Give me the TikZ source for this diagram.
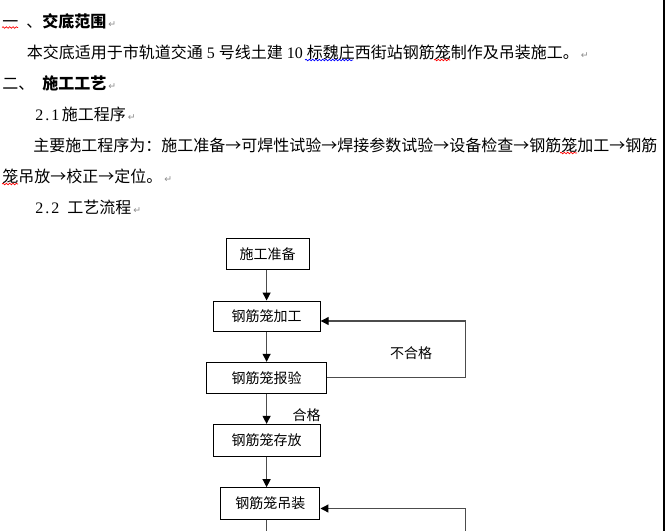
\documentclass[tikz,border=0pt]{standalone}
\usepackage{fontspec}
\setmainfont{Liberation Serif}
\newfontfamily\cjk{Noto Sans CJK SC}
\newfontfamily\dejavu{DejaVu Sans}
\usetikzlibrary{arrows.meta,decorations.pathmorphing}
\newcommand\hw[1]{\makebox[0.5em][c]{#1}}
\newcommand\ret{\hspace{1.5pt}{\dejavu\fontsize{7pt}{7pt}\selectfont\color{black!45}↵}}
\tikzset{
  txt/.style={anchor=west, inner sep=0pt, font=\fontsize{12pt}{12pt}\selectfont\cjk, text height=0.88em, text depth=0.12em},
  box/.style={draw=black, line width=0.75pt, inner sep=0pt, font=\fontsize{10.5pt}{10.5pt}\selectfont\cjk},
  lbl/.style={inner sep=0pt, font=\fontsize{10.5pt}{10.5pt}\selectfont\cjk},
  conn/.style={draw=black!70, line width=0.9pt, -{Triangle[width=6pt,length=6pt,color=black]}},
  plain/.style={draw=black!70, line width=0.9pt},
  redsq/.style={draw=red, line width=0.5pt, decorate, decoration={snake, amplitude=0.6pt, segment length=2.5pt}},
  bluesq/.style={draw=blue, line width=0.5pt, decorate, decoration={snake, amplitude=0.6pt, segment length=2.5pt}},
}
\begin{document}
\begin{tikzpicture}[x=0.75pt,y=-0.75pt]
\useasboundingbox[fill=white] (0,0) rectangle (667,531);

% text lines
\node[txt] (l1) at (2,22) {一\hspace{6pt}、{\bfseries 交底范围}\ret};
\node[txt] (l2) at (26.7,53) {本交底适用于市轨道交通{\rmfamily\ 5\ }号线土建{\rmfamily\ 10\ }标魏庄西街站钢筋笼制作及吊装施工。\ret};
\node[txt] (l3) at (2,84) {二、\hspace{6pt}{\bfseries 施工工艺}\ret};
\node[txt] (l4) at (35,115) {{\rmfamily\hw{2}\hw{.}\hw{1}}\hspace{2pt}施工程序\ret};
\node[txt] (l5) at (33,146) {主要施工程序为：施工准备→可焊性试验→焊接参数试验→设备检查→钢筋笼加工→钢筋};
\node[txt] (l6) at (2,177) {笼吊放→校正→定位。\ret};
\node[txt] (l7) at (35,208.5) {{\rmfamily\hw{2}\hw{.}\hw{2}}\hspace{6pt}工艺流程\ret};

% spell-check squiggles
\draw[redsq] (2,27.5) -- (18,27.5);
\draw[bluesq] (305,60) -- (353,60);
\draw[redsq] (434,60) -- (450,60);
\draw[redsq] (560,153) -- (577,153);
\draw[redsq] (2,184) -- (18,184);

% flowchart
\coordinate (col) at (266.6,0);
\node[box, minimum width=62.25pt, minimum height=23.25pt] (zb) at (267.5,253.8) {施工准备};
\node[box, minimum width=80.25pt, minimum height=22.5pt] (jg) at (266.7,316) {钢筋笼加工};
\node[box, minimum width=89.7pt, minimum height=23.25pt] (by) at (266.5,377.8) {钢筋笼报验};
\node[box, minimum width=80pt, minimum height=23.75pt] (cf) at (266.7,440.2) {钢筋笼存放};
\node[box, minimum width=74.5pt, minimum height=23.75pt] (dz) at (270.3,503.5) {钢筋笼吊装};

\coordinate (r1) at (465.7,321);
\coordinate (r2) at (465.7,508.5);
\coordinate (bot) at (266.8,531);
\coordinate (bot2) at (465.7,531);

\draw[conn] (zb.south -| col) -- (jg.north -| col);
\draw[conn] (jg.south -| col) -- (by.north -| col);
\draw[conn] (by.south -| col) -- (cf.north -| col);
\draw[conn] (cf.south -| col) -- (dz.north -| col);
\draw[plain] (dz.south -| bot) -- (bot);
\draw[conn] (by.east) -- (by.east -| r1) -- (r1) -- (r1 -| jg.east);
\draw[conn] (bot2) -- (r2) -- (r2 -| dz.east);

\node[lbl] (bhg) at (411,353.3) {不合格};
\node[lbl] (hg) at (306.5,415) {合格};

% page edge
\coordinate (e1) at (664.3,0);
\coordinate (e2) at (664.3,531);
\draw[line width=1.5pt] (e1) -- (e2);
\end{tikzpicture}
\end{document}
